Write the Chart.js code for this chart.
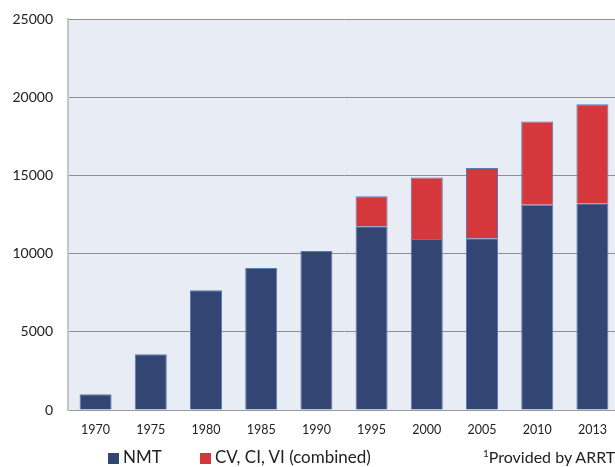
<!DOCTYPE html>
<html>
<head>
<meta charset="utf-8">
<script src="https://cdn.jsdelivr.net/npm/chart.js@4.4.0/dist/chart.umd.min.js"></script>
<style>
  html, body { margin: 0; padding: 0; background: #fff; overflow: hidden; }
  #wrap { position: relative; width: 615px; height: 467px; overflow: hidden; }
  #box { position: absolute; left: 0; top: 0; width: 620px; height: 467px; }
  .leg { position: absolute; top: 447px; font-family: Lato, sans-serif; font-size: 17px; color: #222; white-space: nowrap; line-height: 20px; }
  .sq { display: inline-block; width: 11px; height: 11px; vertical-align: -1px; margin-right: 4px; }
  .sup { position: relative; top: -6px; font-size: 10px; }
</style>
</head>
<body>
<div id="wrap">
  <div id="box"><canvas id="myChart"></canvas></div>
  <div class="leg" style="left:108px"><span class="sq" style="background:#334573"></span>NMT</div>
  <div class="leg" style="left:200px"><span class="sq" style="background:#d5383c"></span>CV, CI, VI (combined)</div>
  <div class="leg" style="left:483px; font-size:16px"><span class="sup">1</span>Provided by ARRT</div>
</div>
<script>
// datos
const anios = ['1970', '1975', '1980', '1985', '1990', '1995', '2000', '2005', '2010', '2013'];
const nmt = [1000, 3570, 7650, 9080, 10170, 11750, 10940, 10980, 13120, 13220];
const cvCiVi = [null, null, null, null, null, 1920, 3930, 4490, 5320, 6330];
const ticksY = [0, 5000, 10000, 15000, 20000, 25000];

// fondo del area del grafico
const fondo = {
  id: 'fondo',
  beforeDraw(chart) {
    const a = chart.chartArea;
    const ctx = chart.ctx;
    ctx.save();
    ctx.fillStyle = '#e8ecf5';
    ctx.fillRect(a.left, a.top, a.right - a.left, a.bottom - a.top);
    ctx.restore();
  }
};

var ctx = document.getElementById('myChart').getContext('2d');
var myChart = new Chart(ctx, {
  type: 'bar',
  data: {
    labels: anios,
    datasets: [
      {
        label: 'NMT',
        data: nmt,
        backgroundColor: '#334573',
        borderColor: '#5b7cb0',
        borderWidth: 1
      },
      {
        label: 'CV, CI, VI (combined)',
        data: cvCiVi,
        backgroundColor: '#d5383c',
        borderColor: '#5b7cb0',
        borderWidth: 1
      }
    ]
  },
  options: {
    responsive: true,
    maintainAspectRatio: false,
    animation: false,
    layout: { padding: { top: 19, bottom: 27, left: 0, right: 0 } },
    datasets: { bar: { categoryPercentage: 1, barPercentage: 0.58 } },
    plugins: {
      legend: { display: false },
      tooltip: { enabled: false }
    },
    scales: {
      x: {
        stacked: true,
        grid: { display: false, drawTicks: false },
        border: { display: true, color: '#9a9a9a', width: 1 },
        ticks: { padding: 12, color: '#222', font: { family: 'Lato', size: 12.5 } },
        afterFit(s) { s.height = 30; s.paddingLeft = 0; s.paddingRight = 0; }
      },
      y: {
        stacked: true,
        min: 0,
        max: 25000,
        afterBuildTicks(s) { s.ticks = ticksY.map(v => ({ value: v })); },
        grid: { color: '#8f8f8f', lineWidth: 1, drawTicks: false },
        border: { display: true, color: '#c6c6c6', width: 2 },
        ticks: {
          padding: 15, color: '#222', font: { family: 'Lato', size: 14 },
          callback: v => String(v)
        },
        afterFit(s) { s.width = 68; s.paddingTop = 0; s.paddingBottom = 0; }
      }
    }
  },
  plugins: [fondo]
});
</script>
</body>
</html>
